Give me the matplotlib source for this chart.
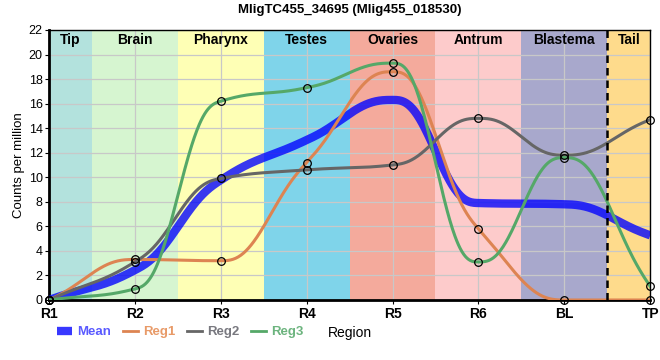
import numpy as np
import matplotlib
matplotlib.use('Agg')
import matplotlib.pyplot as plt
from matplotlib.lines import Line2D

plt.rcParams['font.family'] = ['Liberation Sans', 'DejaVu Sans']

# data
regions = ['R1', 'R2', 'R3', 'R4', 'R5', 'R6', 'BL', 'TP']
reg1 = [0.0, 3.3, 3.2, 11.2, 18.6, 5.8, 0.0, 0.0]
reg2 = [0.0, 3.1, 9.9, 10.6, 11.0, 14.8, 11.8, 14.7]
reg3 = [0.0, 0.9, 16.2, 17.3, 19.3, 3.1, 11.6, 1.1]
mean = list(np.mean([reg1, reg2, reg3], axis=0))

band_names = ['Tip', 'Brain', 'Pharynx', 'Testes', 'Ovaries', 'Antrum', 'Blastema', 'Tail']
band_edges = [0, 0.5, 1.5, 2.5, 3.5, 4.5, 5.5, 6.5, 7]
band_colors = ['#b3e2dd', '#d6f5d0', '#feffb5', '#7fd4ea', '#f4aa9c',
               '#fdcbcb', '#a8a8cc', '#fedb8c']


# smooth curve through the points (pchip tangents, quintic hermite), only for drawing
def smooth(x, y, xs):
    x = np.asarray(x, float); y = np.asarray(y, float)
    h = np.diff(x); d = np.diff(y) / h
    n = len(x)
    m = np.zeros(n)
    for k in range(1, n - 1):
        if d[k - 1] * d[k] > 0:
            w1 = 2 * h[k] + h[k - 1]; w2 = h[k] + 2 * h[k - 1]
            m[k] = (w1 + w2) / (w1 / d[k - 1] + w2 / d[k])
    m[0] = d[0]; m[-1] = d[-1]
    idx = np.clip(np.searchsorted(x, xs) - 1, 0, n - 2)
    t = (xs - x[idx]) / h[idx]
    b0 = 1 - 10*t**3 + 15*t**4 - 6*t**5
    b1 = t - 6*t**3 + 8*t**4 - 3*t**5
    b2 = -4*t**3 + 7*t**4 - 3*t**5
    return b0*y[idx] + (1 - b0)*y[idx+1] + h[idx]*(b1*m[idx] + b2*m[idx+1])


xpos = np.arange(len(regions))
xs = np.linspace(0, len(regions) - 1, 700)

fig = plt.figure(figsize=(6.6, 3.6), dpi=100)
ax = fig.add_axes([0.0742, 0.1667, 0.911, 0.75])

for i in range(len(band_names)):
    ax.axvspan(band_edges[i], band_edges[i+1], color=band_colors[i], lw=0, zorder=0)
    ax.text((band_edges[i] + band_edges[i+1]) / 2, 21.75, band_names[i], ha='center', va='top',
            fontsize=10, fontweight='bold', zorder=5)
ax.axvline(6.5, color='black', ls=(0, (3, 2)), lw=1.8, zorder=4)

ax.grid(True, color='#c8c8c8', lw=0.9, zorder=1)
for gl in ax.get_xgridlines() + ax.get_ygridlines():
    gl.set_zorder(1)

ax.plot(xs, smooth(xpos, mean, xs), color='#0000ff', alpha=0.78, lw=6, zorder=3, solid_capstyle='butt')
series = [(reg1, '#dd8452'), (reg2, '#666666'), (reg3, '#55a868')]
for vals, col in series:
    ax.plot(xs, smooth(xpos, vals, xs), color=col, lw=2.2, zorder=3)
for vals, col in series:
    ax.plot(xpos, vals, 'o', mfc='none', mec='black', ms=5.5, mew=0.9, zorder=6, clip_on=False)

ax.set_xlim(0, 7)
ax.set_ylim(0, 22)
ax.set_xticks(xpos)
ax.set_xticklabels(regions, fontsize=10, fontweight='bold')
ax.set_yticks(np.arange(0, 23, 2))
ax.tick_params(axis='y', labelsize=9, length=3, pad=1.5)
ax.tick_params(axis='x', length=3, pad=2)
for s in ['left', 'bottom']:
    ax.spines[s].set_linewidth(2)
for s in ['right', 'top']:
    ax.spines[s].set_linewidth(1)

ax.set_ylabel('Counts per million', fontsize=9.5, labelpad=3)
ax.set_xlabel('Region', fontsize=10, labelpad=4)
ax.set_title('MligTC455_34695 (Mlig455_018530)', fontsize=9.5, fontweight='bold', pad=12)

handles = [Line2D([], [], color='#0000ff', alpha=0.78, lw=6, solid_capstyle='butt'),
           Line2D([], [], color='#dd8452', lw=2),
           Line2D([], [], color='#666666', lw=2),
           Line2D([], [], color='#55a868', lw=2)]
leg = fig.legend(handles, ['Mean', 'Reg1', 'Reg2', 'Reg3'], loc='center left',
                 bbox_to_anchor=(0.072, 0.077), ncol=4, frameon=False,
                 handlelength=1.15, handletextpad=0.38, columnspacing=0.9,
                 borderpad=0.2, prop={'weight': 'bold', 'size': 9.5})
for txt, col in zip(leg.get_texts(), ['#5a5aff', '#e89a68', '#78787f', '#6cb47e']):
    txt.set_color(col)

fig.savefig('out.png', dpi=100)
